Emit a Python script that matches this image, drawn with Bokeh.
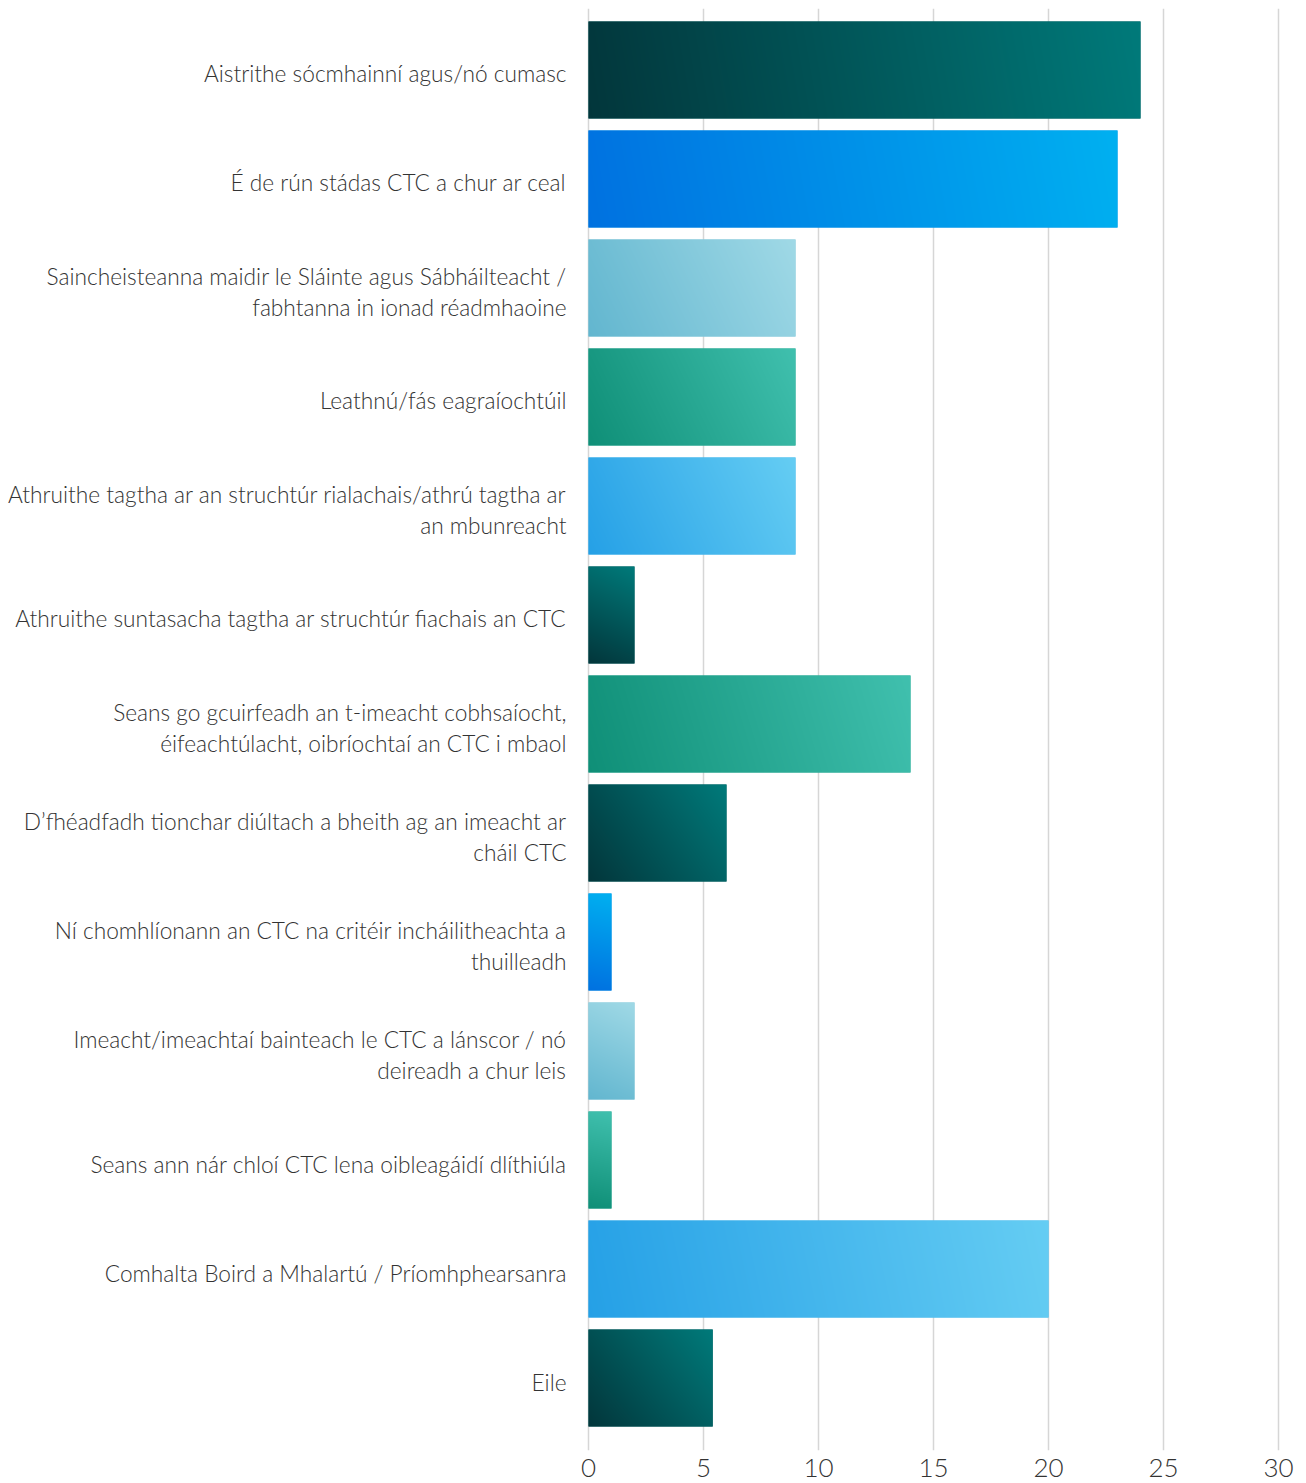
import numpy as np
from bokeh.plotting import figure
from bokeh.models import Range1d, FixedTicker, ColumnDataSource
from bokeh.core.properties import value
from bokeh.embed import file_html
from bokeh.resources import INLINE

categories = [
    "Aistrithe sócmhainní agus/nó cumasc",
    "É de rún stádas CTC a chur ar ceal",
    "Saincheisteanna maidir le Sláinte agus Sábháilteacht /\nfabhtanna in ionad réadmhaoine",
    "Leathnú/fás eagraíochtúil",
    "Athruithe tagtha ar an struchtúr rialachais/athrú tagtha ar\nan mbunreacht",
    "Athruithe suntasacha tagtha ar struchtúr fiachais an CTC",
    "Seans go gcuirfeadh an t-imeacht cobhsaíocht,\néifeachtúlacht, oibríochtaí an CTC i mbaol",
    "D’fhéadfadh tionchar diúltach a bheith ag an imeacht ar\ncháil CTC",
    "Ní chomhlíonann an CTC na critéir incháilitheachta a\nthuilleadh",
    "Imeacht/imeachtaí bainteach le CTC a lánscor / nó\ndeireadh a chur leis",
    "Seans ann nár chloí CTC lena oibleagáidí dlíthiúla",
    "Comhalta Boird a Mhalartú / Príomhphearsanra",
    "Eile",
]
values = [24, 23, 9, 9, 9, 2, 14, 6, 1, 2, 1, 20, 5.4]
x_ticks = [0, 5, 10, 15, 20, 25, 30]

# gradient palettes: (bottom-left colour, top-right colour)
palettes = {
    "teal": ("#02363b", "#007a7a"),
    "blue": ("#0071e0", "#00b0f0"),
    "lightblue": ("#62b6cf", "#a0d9e6"),
    "green": ("#0f8f77", "#40c0ae"),
    "sky": ("#25a0e6", "#65cdf3"),
}
bar_palette = ["teal", "blue", "lightblue", "green", "sky", "teal", "green",
               "teal", "blue", "lightblue", "green", "sky", "teal"]

n = len(categories)
ypos = [n - 1 - i for i in range(n)]

PX_PER_UNIT = 23.0
BAR_H = 0.89
ROW_PX = 109

FONT = "'Lato Light', Lato"


def hex_rgb(h):
    h = h.lstrip("#")
    return np.array([int(h[k:k + 2], 16) for k in (0, 2, 4)], dtype=float)


def mid_hex(a, b):
    c = (hex_rgb(a) + hex_rgb(b)) / 2
    return "#%02x%02x%02x" % tuple(int(round(v)) for v in c)


p = figure(width=1306, height=1483, output_backend="svg", toolbar_location=None,
           x_range=Range1d(-25.565, 31.217),
           y_range=Range1d(-0.665, 12.564),
           y_axis_location=None, min_border_left=0, min_border_right=0,
           min_border_top=8, min_border_bottom=33)
p.outline_line_color = None
p.background_fill_color = "white"
p.border_fill_color = "white"

p.xgrid.ticker = FixedTicker(ticks=x_ticks)
p.xgrid.grid_line_color = "#d6d6d6"
p.xgrid.grid_line_width = 1.5
p.ygrid.grid_line_color = None

p.xaxis.ticker = FixedTicker(ticks=x_ticks)
p.xaxis.axis_line_color = None
p.xaxis.major_tick_line_color = None
p.xaxis.minor_tick_line_color = None
p.xaxis.major_tick_out = 0
p.xaxis.major_tick_in = 0
p.xaxis.minor_tick_out = 0
p.xaxis.minor_tick_in = 0
p.xaxis.major_label_text_font = FONT
p.xaxis.major_label_text_font_size = "26px"
p.xaxis.major_label_text_color = "#333333"
p.xaxis.major_label_standoff = 8

src = ColumnDataSource(dict(
    y=ypos, right=values,
    color=[mid_hex(*palettes[k]) for k in bar_palette],
))
p.hbar(y="y", left=0, right="right", height=BAR_H, fill_color="color",
       line_color=None, source=src)

# gradient overlay for each bar (bottom-left -> top-right)
for i in range(n):
    c0, c1 = (hex_rgb(c) for c in palettes[bar_palette[i]])
    W = max(2, int(round(values[i] * PX_PER_UNIT)))
    H = int(round(BAR_H * ROW_PX))
    px = (np.arange(W) + 0.5)[None, :]
    py = (np.arange(H) + 0.5)[:, None]
    t = (px * W + py * H) / (W * W + H * H)
    t = np.clip(t, 0, 1)
    img = np.empty((H, W), dtype=np.uint32)
    view = img.view(dtype=np.uint8).reshape((H, W, 4))
    for k in range(3):
        view[:, :, k] = np.round(c0[k] + (c1[k] - c0[k]) * t).astype(np.uint8)
    view[:, :, 3] = 255
    p.image_rgba(image=[img], x=0, y=ypos[i] - BAR_H / 2, dw=values[i], dh=BAR_H)

lab = ColumnDataSource(dict(x=[0] * n, y=ypos, text=categories))
p.text(x="x", y="y", text="text", source=lab, text_align="right",
       text_baseline="middle", x_offset=-22, y_offset=4, text_font=value(FONT),
       text_font_size="22.7px", text_color="#333333", text_line_height=1.18)

open("out.html", "w").write(file_html(p, INLINE))
